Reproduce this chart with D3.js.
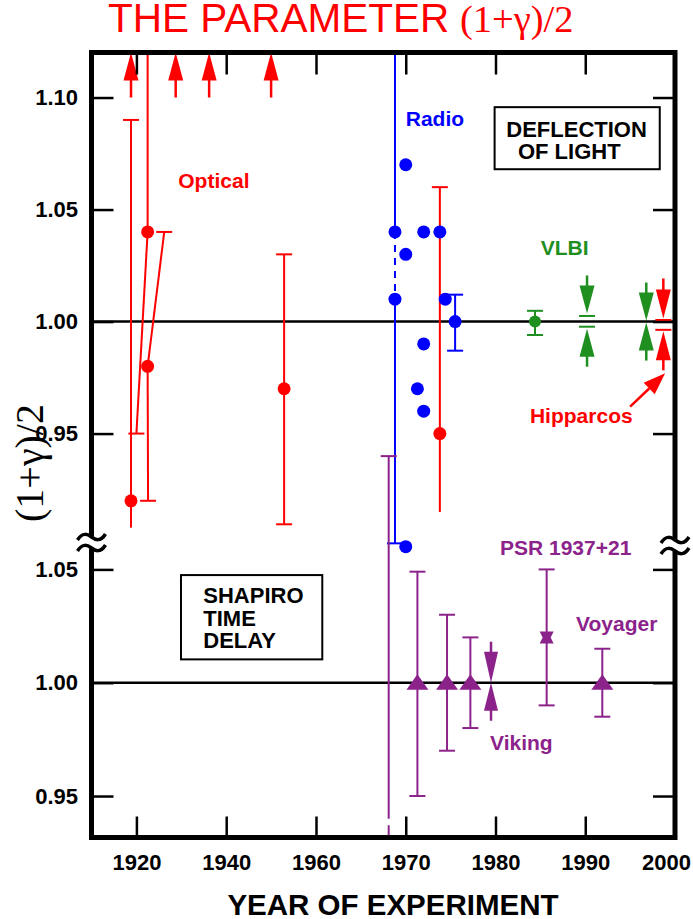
<!DOCTYPE html>
<html><head><meta charset="utf-8">
<script src="https://cdn.jsdelivr.net/npm/d3@7"></script>
<style>body{margin:0;background:#fff} svg{display:block}</style>
</head><body>
<script>
// ================= DATA =================
const xTickYears = [1920, 1940, 1960, 1970, 1980, 1990, 2000];
const xTickLabels = ["1920", "1940", "1960", "1970", "1980", "1990", "2000"];
const upperTicks = [1.10, 1.05, 1.00, 0.95];
const upperTickLabels = ["1.10", "1.05", "1.00", "0.95"];
const lowerTicks = [1.05, 1.00, 0.95];
const lowerTickLabels = ["1.05", "1.00", "0.95"];

// Optical deflection (red): value with (possibly slanted) error bars
const opticalPoints = [
  {year: 1918.8, value: 0.920, hi: 1.090, hiYear: 1918.8, hiCap: true,  lo: 0.908, loYear: 1918.8, loCap: false},
  {year: 1922.5, value: 1.040, hi: 1.1201, hiYear: 1922.5, hiCap: false, lo: 0.950, loYear: 1920.0, loCap: true},
  {year: 1922.5, value: 0.980, hi: 1.040, hiYear: 1926.2, hiCap: true,  lo: 0.920, loYear: 1922.6, loCap: true},
  {year: 1952.9, value: 0.970, hi: 1.030, hiYear: 1952.9, hiCap: true,  lo: 0.9095, loYear: 1952.9, loCap: true},
  {year: 1973.8, value: 0.950, hi: 1.060, hiYear: 1973.8, hiCap: true,  lo: 0.915, loYear: 1973.8, loCap: false}
];
// Optical results off the top of the scale
const opticalLimitYears = [1918.8, 1928.75, 1936.2, 1950.0];

// Radio deflection (blue)
const radioYears  = [1968.8, 1968.8, 1970.0, 1970.0, 1970.0, 1971.3, 1972.0, 1972.0, 1972.0, 1973.8, 1974.4];
const radioValues = [1.040, 1.010, 1.070, 1.030, 0.8995, 0.970, 1.040, 0.990, 0.960, 1.040, 1.010];
const radioBar = {year: 1968.8, hi: 1.1201, dashHi: 1.040, dashLo: 1.010, lo: 0.901};
const radioErrPoint = {year: 1975.5, value: 1.000, hi: 1.012, lo: 0.987};

// VLBI (green) and Hipparcos (red)
const vlbiPoint = {year: 1984.4, value: 1.000, hi: 1.0048, lo: 0.994};
const vlbiBounded = {year: 1990.2, hi: 1.0025, lo: 0.9977};
const vlbiLimit = {year: 1996.8, value: 1.000};
const hipparcos = {year: 1998.7, hi: 1.0007, lo: 0.9963};
const hipparcosPointer = {fromYear: 1995.0, fromValue: 0.962, toYear: 1998.9, toValue: 0.9769};

// Shapiro time delay (purple)
const shapiroFirst = {year: 1968.1, hi: 1.100, lo: 0.940, dashLo: 0.9317};
const shapiroYears  = [1971.3, 1974.6, 1977.2, 1991.9];
const shapiroValues = [1.000, 1.000, 1.000, 1.000];
const shapiroHi     = [1.049, 1.030, 1.020, 1.015];
const shapiroLo     = [0.950, 0.970, 0.980, 0.985];
const vikingLimit = {year: 1979.5, value: 1.000};
const psr = {year: 1985.7, value: 1.020, hi: 1.050, lo: 0.990};

// ================= SETUP =================
const W = 693, H = 919;
const RED = "#ff0000", BLUE = "#0000ff", GREEN = "#1f8f1f", PURPLE = "#8b238b";
const SANS = "'Liberation Sans', Arial, Helvetica, sans-serif";
const SERIF = "'Liberation Serif', 'Times New Roman', Times, serif";

const svg = d3.select("body").append("svg").attr("width", W).attr("height", H);

const x = d3.scaleLinear().domain([1910, 1960, 2000]).range([91.5, 316, 675]);
const yU = d3.scaleLinear().domain([0.9016, 1.1201]).range([542, 52.5]);
const yL = d3.scaleLinear().domain([0.9317, 1.0621]).range([837.5, 542]);

const X0 = x(1910), X1 = x(2000), YT = yU(1.1201), YB = yL(0.9317), YBR = yU(0.9016);
const CAP = 8;

function seg(g, x1, y1, x2, y2, color, w = 2, dash = null) {
  const l = g.append("line").attr("x1", x1).attr("y1", y1).attr("x2", x2).attr("y2", y2)
    .attr("stroke", color).attr("stroke-width", w);
  if (dash) l.attr("stroke-dasharray", dash);
  return l;
}
function cap(g, cx, cy, color) { seg(g, cx - CAP, cy, cx + CAP, cy, color, 2); }
function arrow(g, cx, tipY, up, color, headL = 28, headW = 15, stem = 10) {
  const s = up ? 1 : -1;
  g.append("path")
    .attr("d", `M${cx},${tipY} L${cx - headW / 2},${tipY + s * headL} L${cx + headW / 2},${tipY + s * headL} Z`)
    .attr("fill", color);
  seg(g, cx, tipY + s * (headL - 1), cx, tipY + s * (headL + stem), color, 2.5);
}
function dot(g, cx, cy, color, r = 6.5) {
  g.append("circle").attr("cx", cx).attr("cy", cy).attr("r", r).attr("fill", color);
}
function tri(g, cx, cy, color) {
  g.append("path").attr("d", `M${cx},${cy - 8.5} L${cx + 11},${cy + 7} L${cx - 11},${cy + 7} Z`).attr("fill", color);
}
function label(txt, px, py, color, size = 21, anchor = "start", family = SANS, weight = "bold") {
  return svg.append("text").attr("x", px).attr("y", py).attr("fill", color)
    .attr("font-family", family).attr("font-size", size).attr("font-weight", weight)
    .attr("text-anchor", anchor).text(txt);
}

// ================= REFERENCE LINES =================
const ref = svg.append("g");
seg(ref, X0, yU(1.0), X1, yU(1.0), "#000", 2.5);
seg(ref, X0, yL(1.0), X1, yL(1.0), "#000", 2.5);

// ================= UPPER PANEL =================
const up = svg.append("g");

// Optical error bars + points
opticalPoints.forEach(p => {
  const px = x(p.year), py = yU(p.value);
  const hx = x(p.hiYear), hy = yU(p.hi), lx = x(p.loYear), ly = yU(p.lo);
  seg(up, px, py, hx, hy, RED, 2);
  seg(up, px, py, lx, ly, RED, 2);
  if (p.hiCap) cap(up, hx, hy, RED);
  if (p.loCap) cap(up, lx, ly, RED);
});
opticalPoints.forEach(p => dot(up, x(p.year), yU(p.value), RED));
opticalLimitYears.forEach(yr => arrow(up, x(yr), YT, true, RED, 28, 15, 17));

// Radio
const rb = radioBar, rbx = x(rb.year);
seg(up, rbx, yU(rb.hi), rbx, yU(rb.dashHi), BLUE, 2);
seg(up, rbx, yU(rb.dashHi), rbx, yU(rb.dashLo), BLUE, 2, "7,6");
seg(up, rbx, yU(rb.dashLo), rbx, yU(rb.lo), BLUE, 2);
cap(up, rbx, yU(rb.lo), BLUE);
seg(up, x(radioErrPoint.year), yU(radioErrPoint.hi), x(radioErrPoint.year), yU(radioErrPoint.lo), BLUE, 2);
cap(up, x(radioErrPoint.year), yU(radioErrPoint.hi), BLUE);
cap(up, x(radioErrPoint.year), yU(radioErrPoint.lo), BLUE);
radioYears.forEach((yr, i) => dot(up, x(yr), yU(radioValues[i]), BLUE));
dot(up, x(radioErrPoint.year), yU(radioErrPoint.value), BLUE);

// VLBI
const vx = x(vlbiPoint.year);
seg(up, vx, yU(vlbiPoint.hi), vx, yU(vlbiPoint.lo), GREEN, 2);
cap(up, vx, yU(vlbiPoint.hi), GREEN);
cap(up, vx, yU(vlbiPoint.lo), GREEN);
dot(up, vx, yU(vlbiPoint.value), GREEN, 6);

const vbx = x(vlbiBounded.year);
cap(up, vbx, yU(vlbiBounded.hi), GREEN);
cap(up, vbx, yU(vlbiBounded.lo), GREEN);
arrow(up, vbx, yU(vlbiBounded.hi) - 2.5, false, GREEN);
arrow(up, vbx, yU(vlbiBounded.lo) + 2, true, GREEN);

const vlx = x(vlbiLimit.year);
arrow(up, vlx, yU(vlbiLimit.value) - 1, false, GREEN);
arrow(up, vlx, yU(vlbiLimit.value) + 1, true, GREEN);

// Hipparcos
const hx = x(hipparcos.year);
cap(up, hx, yU(hipparcos.hi), RED);
cap(up, hx, yU(hipparcos.lo), RED);
arrow(up, hx, yU(hipparcos.hi) - 1.5, false, RED, 29, 15, 11);
arrow(up, hx, yU(hipparcos.lo) + 1.5, true, RED, 29, 15, 10);

// Hipparcos pointer arrow
(function () {
  const x1 = x(hipparcosPointer.fromYear), y1 = yU(hipparcosPointer.fromValue);
  const x2 = x(hipparcosPointer.toYear), y2 = yU(hipparcosPointer.toValue);
  const ang = Math.atan2(y2 - y1, x2 - x1), L = 22, Wd = 8;
  const bx = x2 - L * Math.cos(ang), by = y2 - L * Math.sin(ang);
  seg(up, x1, y1, bx, by, RED, 2.5);
  const nx = -Math.sin(ang) * Wd, ny = Math.cos(ang) * Wd;
  up.append("path").attr("d", `M${x2},${y2} L${bx + nx},${by + ny} L${bx - nx},${by - ny} Z`).attr("fill", RED);
})();

// ================= LOWER PANEL =================
const lo = svg.append("g");
const sfx = x(shapiroFirst.year);
seg(lo, sfx, yL(shapiroFirst.hi), sfx, yL(shapiroFirst.lo), PURPLE, 2);
cap(lo, sfx, yL(shapiroFirst.hi), PURPLE);
seg(lo, sfx, yL(shapiroFirst.lo), sfx, yL(shapiroFirst.dashLo), PURPLE, 2, "0,6.5,11.5,40");

shapiroYears.forEach((yr, i) => {
  const px = x(yr);
  seg(lo, px, yL(shapiroHi[i]), px, yL(shapiroLo[i]), PURPLE, 2);
  cap(lo, px, yL(shapiroHi[i]), PURPLE);
  cap(lo, px, yL(shapiroLo[i]), PURPLE);
  tri(lo, px, yL(shapiroValues[i]), PURPLE);
});

const vkx = x(vikingLimit.year);
arrow(lo, vkx, yL(vikingLimit.value), false, PURPLE, 31, 14, 10);
arrow(lo, vkx, yL(vikingLimit.value), true, PURPLE, 28, 14, 10);

const psx = x(psr.year), psy = yL(psr.value);
seg(lo, psx, yL(psr.hi), psx, yL(psr.lo), PURPLE, 2);
cap(lo, psx, yL(psr.hi), PURPLE);
cap(lo, psx, yL(psr.lo), PURPLE);
lo.append("path")
  .attr("d", `M${psx - 7},${psy - 6} L${psx + 7},${psy - 6} L${psx + 4},${psy} L${psx + 7},${psy + 6} L${psx - 7},${psy + 6} L${psx - 4},${psy} Z`)
  .attr("fill", PURPLE);

// ================= FRAME & AXES =================
const fr = svg.append("g");
fr.append("rect").attr("x", X0).attr("y", YT).attr("width", X1 - X0).attr("height", YB - YT)
  .attr("fill", "none").attr("stroke", "#000").attr("stroke-width", 5);

function styleAxis(g, withText) {
  g.select(".domain").remove();
  g.selectAll(".tick line").attr("stroke", "#000").attr("stroke-width", 2.5);
  if (withText) g.selectAll(".tick text").attr("font-family", SANS).attr("font-size", 22)
    .attr("font-weight", "bold").attr("fill", "#000");
}
const tickYearsInner = xTickYears.filter(d => d < 2000);
svg.append("g").attr("transform", `translate(0,${YB})`)
  .call(d3.axisBottom(x).tickValues(xTickYears).tickSize(0).tickPadding(17)
    .tickFormat((d, i) => xTickLabels[i]))
  .call(g => styleAxis(g, true))
  .call(g => g.selectAll(".tick text").filter(d => d === 2000).attr("dx", -9));
svg.append("g").attr("transform", `translate(0,${YB})`)
  .call(d3.axisBottom(x).tickValues(tickYearsInner).tickSize(-21).tickFormat(""))
  .call(g => styleAxis(g, false));
svg.append("g").attr("transform", `translate(0,${YT})`)
  .call(d3.axisTop(x).tickValues(tickYearsInner).tickSize(-22).tickFormat(""))
  .call(g => styleAxis(g, false));

svg.append("g").attr("transform", `translate(${X0},0)`)
  .call(d3.axisLeft(yU).tickValues(upperTicks).tickSize(-22).tickPadding(13.5)
    .tickFormat((d, i) => upperTickLabels[i]))
  .call(g => styleAxis(g, true));
svg.append("g").attr("transform", `translate(${X0},0)`)
  .call(d3.axisLeft(yL).tickValues(lowerTicks).tickSize(-22).tickPadding(13.5)
    .tickFormat((d, i) => lowerTickLabels[i]))
  .call(g => styleAxis(g, true));
svg.append("g").attr("transform", `translate(${X1},0)`)
  .call(d3.axisRight(yU).tickValues(upperTicks).tickSize(-22).tickFormat(""))
  .call(g => styleAxis(g, false));
svg.append("g").attr("transform", `translate(${X1},0)`)
  .call(d3.axisRight(yL).tickValues(lowerTicks).tickSize(-22).tickFormat(""))
  .call(g => styleAxis(g, false));

// axis breaks
function brk(cx, cy) {
  const g = svg.append("g").attr("transform", `translate(${cx},${cy})`);
  g.append("rect").attr("x", -5).attr("y", -6).attr("width", 10).attr("height", 12).attr("fill", "#fff");
  [-5.5, 5.5].forEach(dy => g.append("path")
    .attr("d", `M-14,${dy + 3} C-9,${dy - 5} -4,${dy - 3} 0,${dy} C4,${dy + 3} 9,${dy + 5} 14,${dy - 3}`)
    .attr("fill", "none").attr("stroke", "#000").attr("stroke-width", 3.5));
}
brk(X0, YBR + 0.5);
brk(X1, YBR + 3.5);

// ================= TEXT =================
label("Optical", x(1929.33), yU(1.0595), RED);
label("Radio", x(1970.0), yU(1.0875), BLUE);
label("VLBI", x(1985.04), yU(1.0297), GREEN);
label("Hipparcos", x(1983.84), yU(0.9549), RED);
label("PSR 1937+21", x(1980.5), yL(1.0563), PURPLE);
label("Voyager", x(1988.97), yL(1.0228), PURPLE);
label("Viking", x(1979.39), yL(0.9703), PURPLE);

// boxes
svg.append("rect").attr("x", x(1979.9)).attr("y", yU(1.0957))
  .attr("width", x(1998.3) - x(1979.9)).attr("height", yU(1.068) - yU(1.0957))
  .attr("fill", "#fff").attr("stroke", "#000").attr("stroke-width", 2);
label("DEFLECTION", x(1981.2), yU(1.0825), "#000", 22);
label("OF LIGHT", x(1982.5), yU(1.0725), "#000", 22);

svg.append("rect").attr("x", x(1929.93)).attr("y", yL(1.0475))
  .attr("width", x(1960.7) - x(1929.93)).attr("height", yL(1.0103) - yL(1.0475))
  .attr("fill", "#fff").attr("stroke", "#000").attr("stroke-width", 2);
label("SHAPIRO", x(1934.9), yL(1.035), "#000", 22);
label("TIME", x(1934.9), yL(1.0251), "#000", 22);
label("DELAY", x(1934.9), yL(1.0152), "#000", 22);

// titles
label("THE PARAMETER", 108, 32, RED, 40.5, "start", SANS, "normal");
label("(1+γ)/2", 460, 32, RED, 38.5, "start", SERIF, "normal");
label("YEAR OF EXPERIMENT", 393, 915, "#000", 29.5, "middle");
svg.append("text").attr("transform", "translate(43,463) rotate(-90)")
  .attr("text-anchor", "middle").attr("font-family", SERIF).attr("font-size", 40)
  .attr("fill", "#000").text("(1+γ)/2");
</script>
</body></html>
